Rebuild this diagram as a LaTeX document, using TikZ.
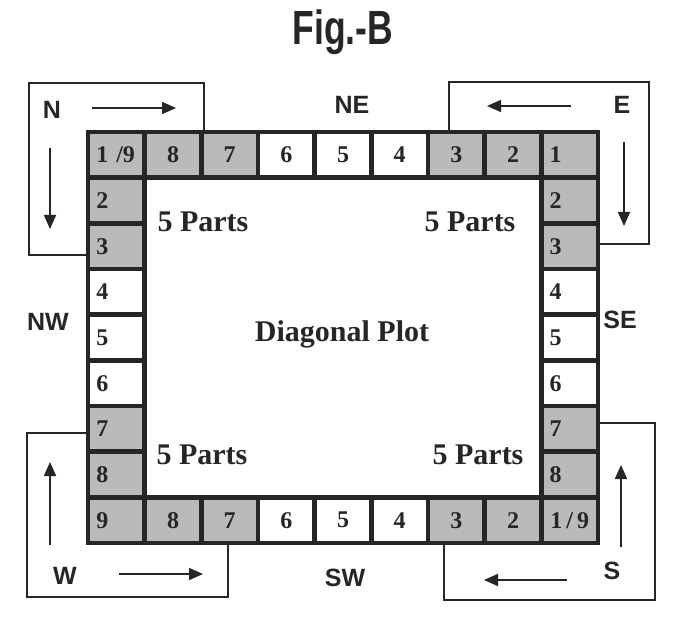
\documentclass[tikz,border=0pt]{standalone}
\usepackage{fontspec}
\setmainfont{Liberation Serif}
\setsansfont{Liberation Sans}
\usetikzlibrary{arrows.meta}
\begin{document}
\begin{tikzpicture}[x=1pt,y=-1pt,
  cellbase/.style={draw=black!85, line width=4.5pt, minimum width=56.67pt, minimum height=45.67pt,
    inner sep=0pt, font=\bfseries\fontsize{24}{24}\selectfont, text=black!85},
  gcell/.style={cellbase, fill=black!27},
  wcell/.style={cellbase, fill=white},
  lefttext/.style={text width=40pt, align=left},
  bracket/.style={draw=black!85, line width=2.5pt},
  arr/.style={draw=black!85, line width=1.6pt, -{Triangle[length=14pt,width=12pt]}},
  dirlab/.style={font=\sffamily\bfseries\fontsize{25}{25}\selectfont, text=black!85},
  parts/.style={font=\bfseries\fontsize{30}{30}\selectfont, text=black!85}
]
\useasboundingbox (0,0) rectangle (686,623);
\fill[white] (0,0) rectangle (686,623);

% title
\node[font=\sffamily\bfseries\fontsize{48}{48}\selectfont, text=black!85] (title) at (343,32) {\scalebox{0.74}[1]{Fig.-B}};

% brackets (drawn first, cells overlay)
\coordinate (nA) at (88,255); \coordinate (nB) at (29,255); \coordinate (nC) at (29,83);
\coordinate (nD) at (204,83); \coordinate (nE) at (204,132);
\draw[bracket] (nA) -- (nB) -- (nC) -- (nD) -- (nE);
\coordinate (eA) at (449,132); \coordinate (eB) at (449,82); \coordinate (eC) at (649,82);
\coordinate (eD) at (649,244); \coordinate (eE) at (598,244);
\draw[bracket] (eA) -- (eB) -- (eC) -- (eD) -- (eE);
\coordinate (wA) at (88,433); \coordinate (wB) at (27,433); \coordinate (wC) at (27,597);
\coordinate (wD) at (228,597); \coordinate (wE) at (228,543);
\draw[bracket] (wA) -- (wB) -- (wC) -- (wD) -- (wE);
\coordinate (sA) at (598,423); \coordinate (sB) at (655,423); \coordinate (sC) at (655,600);
\coordinate (sD) at (444,600); \coordinate (sE) at (444,543);
\draw[bracket] (sA) -- (sB) -- (sC) -- (sD) -- (sE);

% arrows
\coordinate (na1) at (92,108); \coordinate (na2) at (176,108);
\coordinate (nb1) at (50,148); \coordinate (nb2) at (50,229);
\draw[arr] (na1) -- (na2); \draw[arr] (nb1) -- (nb2);
\coordinate (ea1) at (571,106); \coordinate (ea2) at (487,106);
\coordinate (eb1) at (624,142); \coordinate (eb2) at (624,226);
\draw[arr] (ea1) -- (ea2); \draw[arr] (eb1) -- (eb2);
\coordinate (wa1) at (119,574); \coordinate (wa2) at (203,574);
\coordinate (wb1) at (50,545); \coordinate (wb2) at (50,462);
\draw[arr] (wa1) -- (wa2); \draw[arr] (wb1) -- (wb2);
\coordinate (sa1) at (567,580); \coordinate (sa2) at (484,580);
\coordinate (sb1) at (621,547); \coordinate (sb2) at (621,465);
\draw[arr] (sa1) -- (sa2); \draw[arr] (sb1) -- (sb2);

% direction labels
\node[dirlab] (N) at (52,110) {N};
\node[dirlab] (E) at (622,105) {E};
\node[dirlab] (W) at (65,576) {W};
\node[dirlab] (S) at (612,571) {S};
\node[dirlab] (NE) at (352,105) {NE};
\node[dirlab] (SW) at (345,578) {SW};
\node[dirlab] (NW) at (48,322) {NW};
\node[dirlab] (SE) at (620,320) {SE};

% top row
\node[gcell, lefttext] (t1) at (116.3,154.8) {1 /9};
\node[gcell] (t2) at (173,154.8) {8};
\node[gcell] (t3) at (229.7,154.8) {7};
\node[wcell] (t4) at (286.3,154.8) {6};
\node[wcell] (t5) at (343,154.8) {5};
\node[wcell] (t6) at (399.7,154.8) {4};
\node[gcell] (t7) at (456.3,154.8) {3};
\node[gcell] (t8) at (513,154.8) {2};
\node[gcell, lefttext] (t9) at (569.7,154.8) {1};
% left column
\node[gcell, lefttext] (l2) at (116.3,200.5) {2};
\node[gcell, lefttext] (l3) at (116.3,246.2) {3};
\node[wcell, lefttext] (l4) at (116.3,291.8) {4};
\node[wcell, lefttext] (l5) at (116.3,337.5) {5};
\node[wcell, lefttext] (l6) at (116.3,383.2) {6};
\node[gcell, lefttext] (l7) at (116.3,428.8) {7};
\node[gcell, lefttext] (l8) at (116.3,474.5) {8};
% right column
\node[gcell, lefttext] (r2) at (569.7,200.5) {2};
\node[gcell, lefttext] (r3) at (569.7,246.2) {3};
\node[wcell, lefttext] (r4) at (569.7,291.8) {4};
\node[wcell, lefttext] (r5) at (569.7,337.5) {5};
\node[wcell, lefttext] (r6) at (569.7,383.2) {6};
\node[gcell, lefttext] (r7) at (569.7,428.8) {7};
\node[gcell, lefttext] (r8) at (569.7,474.5) {8};
% bottom row
\node[gcell, lefttext] (b1) at (116.3,520.2) {9};
\node[gcell] (b2) at (173,520.2) {8};
\node[gcell] (b3) at (229.7,520.2) {7};
\node[wcell] (b4) at (286.3,520.2) {6};
\node[wcell] (b5) at (343,520.2) {5};
\node[wcell] (b6) at (399.7,520.2) {4};
\node[gcell] (b7) at (456.3,520.2) {3};
\node[gcell] (b8) at (513,520.2) {2};
\node[gcell] (b9) at (569.7,520.2) {1\,/\,9};

% inner texts
\node[parts] (p1) at (203,222) {5 Parts};
\node[parts] (p2) at (470,222) {5 Parts};
\node[parts] (p3) at (202,455) {5 Parts};
\node[parts] (p4) at (478,455) {5 Parts};
\node[parts] (dp) at (342,334) {Diagonal Plot};
\end{tikzpicture}
\end{document}
